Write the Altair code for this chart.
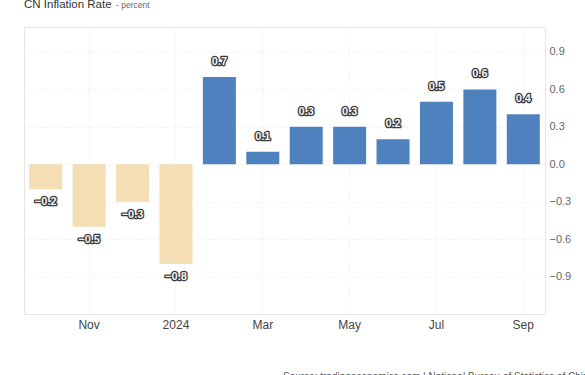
import altair as alt
import pandas as pd

months = ["2023-10", "2023-11", "2023-12", "2024-01", "2024-02", "2024-03",
          "2024-04", "2024-05", "2024-06", "2024-07", "2024-08", "2024-09"]
values = [-0.2, -0.5, -0.3, -0.8, 0.7, 0.1, 0.3, 0.3, 0.2, 0.5, 0.6, 0.4]
tick_months = ["2023-11", "2024-01", "2024-03", "2024-05", "2024-07", "2024-09"]
tick_labels = ["Nov", "2024", "Mar", "May", "Jul", "Sep"]
y_ticks = [-0.9, -0.6, -0.3, 0.0, 0.3, 0.6, 0.9]

df = pd.DataFrame({"month": months, "value": values})
label_map = "{" + ",".join(f"'{m}':'{l}'" for m, l in zip(tick_months, tick_labels)) + "}"

FONT = "Liberation Sans"
GRID = "#e8e8e8"

x_enc = alt.X(
    "month:O", sort=months, title=None,
    scale=alt.Scale(paddingInner=0.24, paddingOuter=0.12),
    axis=alt.Axis(values=tick_months, labelExpr=f"{label_map}[datum.value]",
                  labelAngle=0, labelFont=FONT, labelFontSize=12, labelColor="#444",
                  labelPadding=5, ticks=False, domain=False, grid=True,
                  gridColor=GRID, gridDash=[1, 2], bandPosition=0.5),
)
y_scale = alt.Scale(domain=[-1.2, 1.1], nice=False, zero=False)
y_enc = alt.Y(
    "value:Q", scale=y_scale, title=None,
    axis=alt.Axis(orient="right", values=y_ticks, format=".1f", labelFont=FONT,
                  labelFontSize=11, labelColor="#666", labelPadding=-4,
                  ticks=True, tickSize=8, tickColor=GRID, tickDash=[1, 2],
                  domain=False, grid=True, gridColor=GRID, gridDash=[1, 2]),
)

base = alt.Chart(df)

bars = base.mark_bar().encode(
    x=x_enc, y=y_enc, y2=alt.datum(0),
    color=alt.condition("datum.value >= 0", alt.value("#4e81bd"), alt.value("#f5deb3")),
)

def labels(cond, dy):
    b = base.transform_filter(cond)
    outline = b.mark_text(font=FONT, fontSize=11, fontWeight="bold", dy=dy,
                          baseline="middle", stroke="#3a3a3a", strokeWidth=2.6,
                          fill="#3a3a3a", strokeJoin="round").encode(
        x=alt.X("month:O", sort=months), y=alt.Y("value:Q", scale=y_scale),
        text=alt.Text("value:Q", format=".1f"))
    inner = b.mark_text(font=FONT, fontSize=11, fontWeight="bold", dy=dy,
                        baseline="middle", fill="#f2f2f2").encode(
        x=alt.X("month:O", sort=months), y=alt.Y("value:Q", scale=y_scale),
        text=alt.Text("value:Q", format=".1f"))
    return outline + inner

pos_labels = labels("datum.value >= 0", -15)
neg_labels = labels("datum.value < 0", 13)

title = alt.Chart(pd.DataFrame({"t": ["CN Inflation Rate"]})).mark_text(
    font=FONT, fontSize=11.5, color="#333", align="left", baseline="alphabetic").encode(
    x=alt.value(0), y=alt.value(-19), text="t:N")
sub = alt.Chart(pd.DataFrame({"t": ["- percent"]})).mark_text(
    font=FONT, fontSize=8.5, color="#666", align="left", baseline="alphabetic").encode(
    x=alt.value(92), y=alt.value(-19), text="t:N")
source = alt.Chart(pd.DataFrame({"t": ["Source: tradingeconomics.com | National Bureau of Statistics of China"]})).mark_text(
    font=FONT, fontSize=10, color="#555", align="left", baseline="alphabetic").encode(
    x=alt.value(259), y=alt.value(353), text="t:N")

chart = alt.layer(bars, pos_labels, neg_labels, title, sub, source).properties(
    width=521, height=287,
    autosize=alt.AutoSizeParams(type="none"),
    padding={"left": 24, "top": 27, "right": 40, "bottom": 61},
).configure_view(stroke="#e6e6e6", strokeWidth=1)

chart.save("out.html", embed_options={"renderer": "svg", "actions": False})
